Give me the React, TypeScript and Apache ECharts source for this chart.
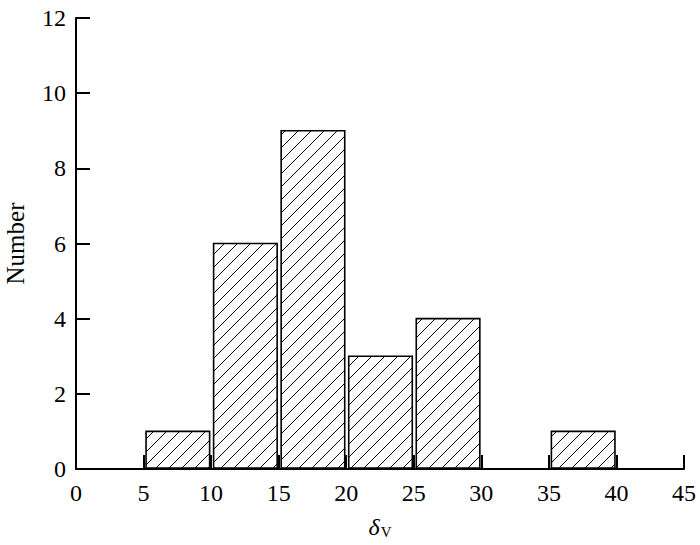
import React, { useEffect, useRef } from "react";
import * as echarts from "echarts";

const binStarts = [5, 10, 15, 20, 25, 35];
const binEnds = [10, 15, 20, 25, 30, 40];
const counts = [1, 6, 9, 3, 4, 1];

const FONT = "Liberation Serif";

export default function App() {
  const ref = useRef<HTMLDivElement>(null);
  useEffect(() => {
    if (!ref.current) return;
    document.body.style.margin = "0";
    const chart = echarts.init(ref.current, undefined, { renderer: "svg" });
    const data = binStarts.map((s, i) => [s, binEnds[i], counts[i]]);
    chart.setOption({
      animation: false,
      backgroundColor: "#fff",
      textStyle: { fontFamily: FONT },
      grid: { left: 76, right: 16, top: 18, bottom: 76, outerBoundsMode: "none", containLabel: false },
      xAxis: {
        type: "value",
        min: 0,
        max: 45,
        interval: 5,
        name: "{d|δ}{s|V}",
        nameLocation: "middle",
        nameGap: 46,
        nameTextStyle: {
          rich: {
            d: { fontFamily: FONT, fontSize: 24, fontStyle: "italic", color: "#000", verticalAlign: "bottom" },
            s: { fontFamily: FONT, fontSize: 15, color: "#000", verticalAlign: "bottom", padding: [0, 0, 0, 1] },
          },
        },
        axisLine: { show: true, onZero: false, lineStyle: { color: "#000", width: 2 } },
        axisTick: { show: true, inside: true, length: 14, lineStyle: { color: "#000", width: 2 } },
        axisLabel: { color: "#000", fontFamily: FONT, fontSize: 24, margin: 12 },
        splitLine: { show: false },
      },
      yAxis: {
        type: "value",
        min: 0,
        max: 12,
        interval: 2,
        name: "Number",
        nameLocation: "middle",
        nameGap: 48,
        nameTextStyle: { color: "#000", fontFamily: FONT, fontSize: 25 },
        axisLine: { show: true, lineStyle: { color: "#000", width: 2 } },
        axisTick: { show: true, inside: true, length: 14, lineStyle: { color: "#000", width: 2 } },
        axisLabel: { color: "#000", fontFamily: FONT, fontSize: 24, margin: 10 },
        splitLine: { show: false },
      },
      series: [
        {
          type: "custom",
          data,
          encode: { x: [0, 1], y: 2 },
          renderItem: (params: any, api: any) => {
            const x0 = api.value(0);
            const x1 = api.value(1);
            const v = api.value(2);
            const p0 = api.coord([x0, 0]);
            const p1 = api.coord([x1, v]);
            const L = p0[0] + 2.5;
            const R = p1[0] - 1.5;
            const T = p1[1];
            const B = p0[1] - 1;
            const children: any[] = [];
            children.push({
              type: "rect",
              shape: { x: L, y: T, width: R - L, height: B - T },
              style: { fill: "#fff", stroke: "none" },
            });
            const s = 13;
            const start = Math.ceil((L + T) / s) * s;
            for (let c = start; c < R + B; c += s) {
              const xa = Math.max(L, c - B);
              const xb = Math.min(R, c - T);
              if (xb <= xa) continue;
              children.push({
                type: "line",
                shape: { x1: xa, y1: c - xa, x2: xb, y2: c - xb },
                style: { stroke: "#000", lineWidth: 1 },
              });
            }
            children.push({
              type: "rect",
              shape: { x: L, y: T, width: R - L, height: B - T },
              style: { fill: "none", stroke: "#000", lineWidth: 1.6 },
            });
            return { type: "group", children };
          },
        },
      ],
    });
    return () => chart.dispose();
  }, []);
  return <div ref={ref} style={{ width: 700, height: 545 }} />;
}
